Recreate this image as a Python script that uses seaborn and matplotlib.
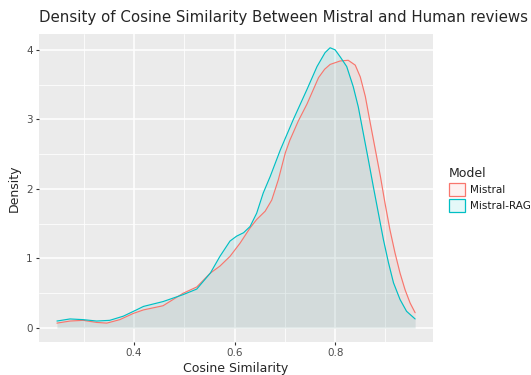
import numpy as np
import pandas as pd
import matplotlib
matplotlib.use("Agg")
import matplotlib.pyplot as plt
from matplotlib.patches import Patch
from matplotlib.ticker import MultipleLocator
import seaborn as sns

# ---- data ----
models = ["Mistral", "Mistral-RAG"]
colors = ["#F8766D", "#00BFC4"]

mistral_x = [0.247, 0.273, 0.299, 0.326, 0.346, 0.372, 0.399, 0.419, 0.458, 0.498,
             0.525, 0.552, 0.571, 0.591, 0.611, 0.631, 0.644, 0.661, 0.674, 0.687,
             0.701, 0.710, 0.727, 0.744, 0.767, 0.779, 0.790, 0.810, 0.826, 0.840,
             0.850, 0.860, 0.870, 0.880, 0.890, 0.899, 0.909, 0.919, 0.929, 0.939,
             0.949, 0.959]
mistral_d = [0.07, 0.10, 0.11, 0.08, 0.07, 0.12, 0.21, 0.26, 0.32, 0.50,
             0.59, 0.79, 0.89, 1.03, 1.22, 1.44, 1.56, 1.68, 1.84, 2.13,
             2.52, 2.70, 2.98, 3.22, 3.60, 3.72, 3.79, 3.84, 3.85, 3.78,
             3.61, 3.33, 2.94, 2.56, 2.18, 1.80, 1.41, 1.08, 0.79, 0.55,
             0.36, 0.22]

rag_x = [0.247, 0.273, 0.299, 0.326, 0.352, 0.379, 0.405, 0.419, 0.458, 0.498,
         0.525, 0.552, 0.571, 0.591, 0.604, 0.618, 0.631, 0.644, 0.657, 0.671,
         0.691, 0.717, 0.744, 0.764, 0.780, 0.790, 0.800, 0.810, 0.823, 0.836,
         0.846, 0.856, 0.866, 0.876, 0.886, 0.896, 0.906, 0.916, 0.929, 0.942,
         0.959]
rag_d = [0.10, 0.13, 0.12, 0.10, 0.11, 0.17, 0.26, 0.31, 0.38, 0.48,
         0.56, 0.79, 1.03, 1.25, 1.32, 1.37, 1.46, 1.65, 1.94, 2.18,
         2.56, 3.00, 3.43, 3.76, 3.96, 4.03, 4.00, 3.90, 3.76, 3.47,
         3.18, 2.80, 2.42, 2.03, 1.65, 1.27, 0.94, 0.65, 0.41, 0.24,
         0.13]

df = pd.concat([
    pd.DataFrame({"Cosine Similarity": mistral_x, "Density": mistral_d, "Model": models[0]}),
    pd.DataFrame({"Cosine Similarity": rag_x, "Density": rag_d, "Model": models[1]}),
], ignore_index=True)

# ---- ggplot-like theme ----
sns.set_theme(style="darkgrid", rc={
    "axes.facecolor": "#EBEBEB",
    "grid.color": "white",
    "axes.edgecolor": "#EBEBEB",
})
plt.rcParams["font.family"] = ["DejaVu Sans"]

fig = plt.figure(figsize=(5.31, 3.75), dpi=100)
ax = fig.add_axes([0.0735, 0.088, 0.742, 0.822])

palette = dict(zip(models, colors))

# fill under each curve (drawn in group order, like geom_density)
for m in models:
    sub = df[df["Model"] == m]
    ax.fill_between(sub["Cosine Similarity"], 0, sub["Density"],
                    color=palette[m], alpha=0.1, linewidth=0, zorder=2)

sns.lineplot(data=df, x="Cosine Similarity", y="Density", hue="Model",
             palette=palette, linewidth=0.85, legend=False, ax=ax, zorder=3,
             sort=True, estimator=None)

# axis ranges with 5% expansion
xmin, xmax = df["Cosine Similarity"].min(), df["Cosine Similarity"].max()
ymax = df["Density"].max()
xr = xmax - xmin
ax.set_xlim(xmin - 0.05 * xr, xmax + 0.05 * xr)
ax.set_ylim(-0.05 * ymax, ymax * 1.05)

ax.xaxis.set_minor_locator(MultipleLocator(0.1))
ax.yaxis.set_major_locator(MultipleLocator(1))
ax.yaxis.set_minor_locator(MultipleLocator(0.5))
ax.set_xticks([0.4, 0.6, 0.8])
ax.set_xticklabels(["0.4", "0.6", "0.8"])
ax.grid(which="major", color="white", linewidth=1.1)
ax.grid(which="minor", color="white", linewidth=0.55)
ax.set_axisbelow(True)

ax.tick_params(axis="both", which="major", length=2.5, width=0.8, color="#333333",
               labelsize=7.5, labelcolor="#4D4D4D", pad=2, bottom=True, left=True)
ax.tick_params(axis="both", which="minor", length=0)

ax.set_xlabel("Cosine Similarity", fontsize=9, labelpad=3)
ax.set_ylabel("Density", fontsize=9, labelpad=4)
for s in ax.spines.values():
    s.set_visible(False)

fig.text(0.0735, 0.953, "Density of Cosine Similarity Between Mistral and Human reviews",
         fontsize=10.8, ha="left", va="center")

handles = []
for c in colors:
    r, g, b = matplotlib.colors.to_rgb(c)
    handles.append(Patch(facecolor=(r, g, b, 0.1), edgecolor=c, linewidth=0.9))
leg = fig.legend(handles, models, title="Model", loc="upper left",
                 bbox_to_anchor=(0.835, 0.568), frameon=False, fontsize=7.5,
                 title_fontsize=9, handlelength=1.6, handleheight=1.6,
                 handletextpad=0.5, labelspacing=0.25, borderpad=0)
leg._legend_box.align = "left"
for t in leg.get_texts():
    t.set_color("#1A1A1A")

fig.savefig("out.png", dpi=100)
